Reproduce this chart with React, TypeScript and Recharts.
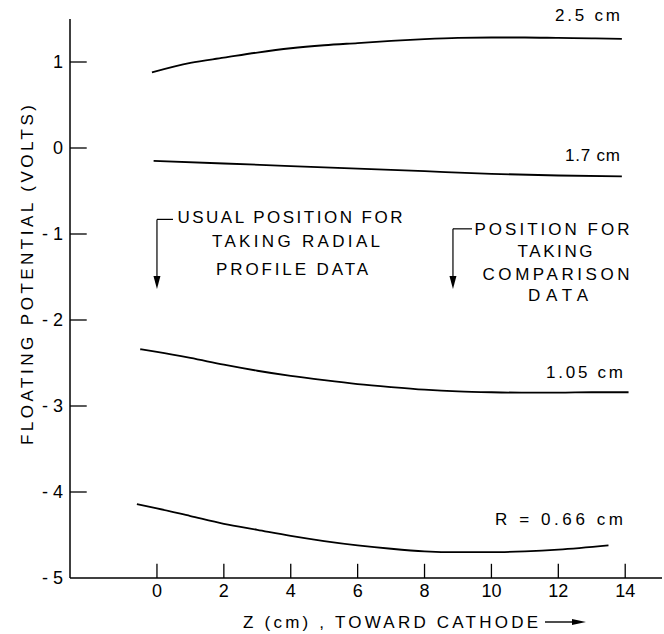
import React from "react";
import { LineChart, Line, XAxis, YAxis, ReferenceLine, ReferenceDot } from "recharts";

// ---- data ----
const X_TICKS = [0, 2, 4, 6, 8, 10, 12, 14];
const Y_TICKS = [-5, -4, -3, -2, -1, 0, 1];
const X_DOMAIN: [number, number] = [-2.6, 15.1];
const Y_DOMAIN: [number, number] = [-5, 1.5];

const Z_R250 = [-0.15, 1, 2, 3, 4, 5, 6, 7, 8, 9, 10, 11, 12, 13, 13.9];
const V_R250 = [0.88, 0.99, 1.05, 1.11, 1.16, 1.195, 1.22, 1.245, 1.265, 1.28, 1.285, 1.285, 1.28, 1.275, 1.27];

const Z_R170 = [-0.1, 2, 4, 6, 8, 10, 12, 13.9];
const V_R170 = [-0.15, -0.18, -0.21, -0.24, -0.27, -0.3, -0.32, -0.33];

const Z_R105 = [-0.5, 0, 1, 2, 3, 4, 5, 6, 7, 8, 9, 10, 11, 12, 13, 14.1];
const V_R105 = [-2.34, -2.37, -2.44, -2.52, -2.59, -2.65, -2.7, -2.745, -2.78, -2.81, -2.83, -2.84, -2.845, -2.845, -2.84, -2.84];

const Z_R066 = [-0.6, 0, 1, 2, 3, 4, 5, 6, 7, 8, 9, 10, 11, 12, 13.5];
const V_R066 = [-4.14, -4.19, -4.28, -4.37, -4.44, -4.51, -4.57, -4.62, -4.66, -4.69, -4.7, -4.7, -4.69, -4.67, -4.62];

// annotation arrow positions (z, volts)
const ARROW1_Z = 0;
const ARROW1_TOP = -0.83;
const ARROW1_ELBOW = 0.48;
const ARROW2_Z = 8.85;
const ARROW2_TOP = -0.94;
const ARROW2_ELBOW = 9.42;
const ARROW_TIP = -1.64;

// inward tick lengths in data units
const X_TICK_LEN = 0.165;
const Y_TICK_LEN = 0.5;

const build = (zs: number[], vs: number[]) => zs.map((z, i) => ({ z, v: vs[i] }));
const D250 = build(Z_R250, V_R250);
const D170 = build(Z_R170, V_R170);
const D105 = build(Z_R105, V_R105);
const D066 = build(Z_R066, V_R066);

const FONT = "'Liberation Sans', Arial, sans-serif";

const fmtY = (v: number) => (v < 0 ? `- ${Math.abs(v)}` : `${v}`);

const ArrowHead = (p: any) => (
  <path d={`M${p.cx - 3.5},${p.cy - 13} L${p.cx + 3.5},${p.cy - 13} L${p.cx},${p.cy} Z`} fill="#000" />
);

const T = ({ x, y, len, children, anchor = "middle", size = 17 }: any) => (
  <text
    x={x}
    y={y}
    textAnchor={anchor}
    textLength={len}
    lengthAdjust="spacing"
    fontFamily={FONT}
    fontSize={size}
    fill="#000"
  >
    {children}
  </text>
);

const seg = (x1: number, y1: number, x2: number, y2: number, key: string, w = 1.3) => (
  <ReferenceLine
    key={key}
    segment={[{ x: x1, y: y1 }, { x: x2, y: y2 }]}
    stroke="#000"
    strokeWidth={w}
    ifOverflow="visible"
  />
);

export default function App() {
  const lineProps = {
    type: "monotone" as const,
    dataKey: "v",
    stroke: "#000",
    strokeWidth: 1.8,
    dot: false,
    isAnimationActive: false,
  };
  const xTickSegs = X_TICKS.map((t) => seg(t, Y_DOMAIN[0], t, Y_DOMAIN[0] + X_TICK_LEN, `xt${t}`));
  const yTickSegs = Y_TICKS.filter((t) => t !== Y_DOMAIN[0]).map((t) =>
    seg(X_DOMAIN[0], t, X_DOMAIN[0] + Y_TICK_LEN, t, `yt${t}`)
  );
  return (
    <div style={{ position: "absolute", left: 0, top: 0, width: 664, height: 634, background: "#fff" }}>
      <LineChart width={664} height={634} margin={{ top: 19, right: 2, left: 0, bottom: 0 }}>
        <XAxis
          type="number"
          dataKey="z"
          domain={X_DOMAIN}
          ticks={X_TICKS}
          allowDataOverflow
          height={56}
          tickSize={0}
          tickMargin={6}
          tickLine={false}
          axisLine={{ stroke: "#000", strokeWidth: 1.5 }}
          tick={{ fill: "#000", fontSize: 18, fontFamily: FONT }}
        />
        <YAxis
          type="number"
          domain={Y_DOMAIN}
          ticks={Y_TICKS}
          allowDataOverflow
          width={70}
          tickSize={0}
          tickMargin={7}
          tickLine={false}
          tickFormatter={fmtY}
          axisLine={{ stroke: "#000", strokeWidth: 1.5 }}
          tick={{ fill: "#000", fontSize: 18, fontFamily: FONT }}
        />
        {seg(X_TICKS[0], Y_DOMAIN[0], X_TICKS[0], Y_DOMAIN[0] + X_TICK_LEN, "xa")}
        {seg(X_TICKS[1], Y_DOMAIN[0], X_TICKS[1], Y_DOMAIN[0] + X_TICK_LEN, "xb")}
        {seg(X_TICKS[2], Y_DOMAIN[0], X_TICKS[2], Y_DOMAIN[0] + X_TICK_LEN, "xc")}
        {seg(X_TICKS[3], Y_DOMAIN[0], X_TICKS[3], Y_DOMAIN[0] + X_TICK_LEN, "xd")}
        {seg(X_TICKS[4], Y_DOMAIN[0], X_TICKS[4], Y_DOMAIN[0] + X_TICK_LEN, "xe")}
        {seg(X_TICKS[5], Y_DOMAIN[0], X_TICKS[5], Y_DOMAIN[0] + X_TICK_LEN, "xf")}
        {seg(X_TICKS[6], Y_DOMAIN[0], X_TICKS[6], Y_DOMAIN[0] + X_TICK_LEN, "xg")}
        {seg(X_TICKS[7], Y_DOMAIN[0], X_TICKS[7], Y_DOMAIN[0] + X_TICK_LEN, "xh")}
        {seg(X_DOMAIN[0], Y_TICKS[1], X_DOMAIN[0] + Y_TICK_LEN, Y_TICKS[1], "ya")}
        {seg(X_DOMAIN[0], Y_TICKS[2], X_DOMAIN[0] + Y_TICK_LEN, Y_TICKS[2], "yb")}
        {seg(X_DOMAIN[0], Y_TICKS[3], X_DOMAIN[0] + Y_TICK_LEN, Y_TICKS[3], "yc")}
        {seg(X_DOMAIN[0], Y_TICKS[4], X_DOMAIN[0] + Y_TICK_LEN, Y_TICKS[4], "yd")}
        {seg(X_DOMAIN[0], Y_TICKS[5], X_DOMAIN[0] + Y_TICK_LEN, Y_TICKS[5], "ye")}
        {seg(X_DOMAIN[0], Y_TICKS[6], X_DOMAIN[0] + Y_TICK_LEN, Y_TICKS[6], "yf")}
        <Line data={D250} {...lineProps} />
        <Line data={D170} {...lineProps} />
        <Line data={D105} {...lineProps} />
        <Line data={D066} {...lineProps} />
        {seg(ARROW1_Z, ARROW1_TOP, ARROW1_ELBOW, ARROW1_TOP, "a1h", 1.2)}
        {seg(ARROW1_Z, ARROW1_TOP, ARROW1_Z, ARROW_TIP + 0.1, "a1v", 1.2)}
        <ReferenceDot x={ARROW1_Z} y={ARROW_TIP} r={3} shape={ArrowHead} ifOverflow="visible" />
        {seg(ARROW2_Z, ARROW2_TOP, ARROW2_ELBOW, ARROW2_TOP, "a2h", 1.2)}
        {seg(ARROW2_Z, ARROW2_TOP, ARROW2_Z, ARROW_TIP + 0.1, "a2v", 1.2)}
        <ReferenceDot x={ARROW2_Z} y={ARROW_TIP} r={3} shape={ArrowHead} ifOverflow="visible" />
      </LineChart>
      <svg
        width={664}
        height={634}
        style={{ position: "absolute", left: 0, top: 0, pointerEvents: "none" }}
      >
        {/* series labels */}
        <T x={620} y={21} anchor="end" len={65}>2.5 cm</T>
        <T x={620} y={161} anchor="end" len={55}>1.7 cm</T>
        <T x={623} y={378} anchor="end" len={77}>1.05 cm</T>
        <T x={623} y={525} anchor="end" len={128}>R = 0.66 cm</T>
        {/* annotations */}
        <T x={290} y={223} len={225}>USUAL POSITION FOR</T>
        <T x={296} y={247} len={168}>TAKING RADIAL</T>
        <T x={292} y={275} len={152}>PROFILE DATA</T>
        <T x={552} y={235} len={155}>POSITION FOR</T>
        <T x={555} y={257} len={75}>TAKING</T>
        <T x={556} y={280} len={147}>COMPARISON</T>
        <T x={558} y={301} len={60}>DATA</T>
        {/* axis titles */}
        <T x={243} y={628} anchor="start" len={295}>Z (cm) , TOWARD CATHODE</T>
        <line x1={545} y1={622} x2={574} y2={622} stroke="#000" strokeWidth={1.4} />
        <path d="M572,619 L586,622 L572,625 Z" fill="#000" />
        <g transform="translate(33,275) rotate(-90)">
          <T x={0} y={0} len={340}>FLOATING POTENTIAL (VOLTS)</T>
        </g>
      </svg>
    </div>
  );
}
